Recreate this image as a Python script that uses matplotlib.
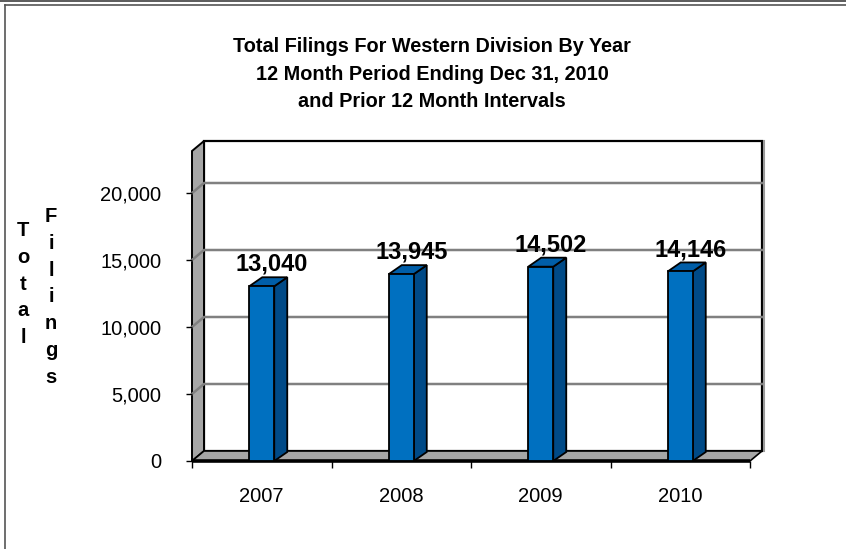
import matplotlib
matplotlib.use("Agg")
import matplotlib.pyplot as plt
from matplotlib.patches import Polygon
from matplotlib.lines import Line2D

plt.rcParams['font.family'] = ['Liberation Sans', 'DejaVu Sans']

years = ['2007', '2008', '2009', '2010']
filings = [13040, 13945, 14502, 14146]
yticks = [0, 5000, 10000, 15000, 20000]
title = ("Total Filings For Western Division By Year\n"
         "12 Month Period Ending Dec 31, 2010\n"
         "and Prior 12 Month Intervals")

W, H = 846, 549
fig = plt.figure(figsize=(W / 100, H / 100), dpi=100)
fig.patch.set_facecolor('white')

# plot area (front plane) in pixels
left, right, bottom, top = 192, 750, 461, 151
ax = fig.add_axes([left / W, (H - bottom) / H, (right - left) / W, (bottom - top) / H])
ymax = (bottom - top) / 67 * 5000
x0, x1 = -0.5, len(years) - 0.5
ax.set_xlim(x0, x1)
ax.set_ylim(0, ymax)
for s in ax.spines.values():
    s.set_visible(False)
ax.patch.set_visible(False)

# 3d depth, pixels -> data
px_x = (x1 - x0) / (right - left)
px_y = ymax / (bottom - top)
DX, DY = 12 * px_x, 10 * px_y

wall_gray = '#a6a6a6'
# back wall
ax.add_patch(Polygon([(x0 + DX, DY), (x1 + DX, DY), (x1 + DX, ymax + DY), (x0 + DX, ymax + DY)],
                     closed=True, fc='white', ec='black', lw=1.6, clip_on=False, zorder=0))
ax.plot([x1 + DX + 2 * px_x] * 2, [DY, ymax + DY], color='#999999', lw=1.5, clip_on=False, zorder=0)
# left wall
ax.add_patch(Polygon([(x0, 0), (x0 + DX, DY), (x0 + DX, ymax + DY), (x0, ymax)],
                     closed=True, fc=wall_gray, ec='black', lw=1.4, clip_on=False, zorder=1))
# floor
ax.add_patch(Polygon([(x0, 0), (x1, 0), (x1 + DX, DY), (x0 + DX, DY)],
                     closed=True, fc=wall_gray, ec='black', lw=1.2, clip_on=False, zorder=1))
ax.plot([x0, x1], [0, 0], color='black', lw=2.6, clip_on=False, zorder=2, solid_capstyle='butt')

# gridlines on the walls
for v in yticks[1:]:
    ax.plot([x0, x0 + DX, x1 + DX], [v, v + DY, v + DY], color='#808080', lw=1.8,
            clip_on=False, zorder=1.5)

# bars
front = '#0070c0'
side = '#004a87'
topc = '#005ea8'
bw = 25 * px_x
bdx, bdy = 13 * px_x, 9 * px_y
bars = ax.bar(range(len(years)), filings, width=bw, color=front, edgecolor='black',
              linewidth=1.3, zorder=4)
for r in bars:
    bx0 = r.get_x()
    bx1 = bx0 + r.get_width()
    h = r.get_height()
    ax.add_patch(Polygon([(bx1, 0), (bx1, h), (bx1 + bdx, h + bdy), (bx1 + bdx, bdy)],
                         closed=True, fc=side, ec='black', lw=1.3, zorder=3.5))
    ax.add_patch(Polygon([(bx0, h), (bx1, h), (bx1 + bdx, h + bdy), (bx0 + bdx, h + bdy)],
                         closed=True, fc=topc, ec='black', lw=1.3, zorder=3.5))

for i, v in enumerate(filings):
    ax.annotate(f'{v:,}', (i, v), xytext=(7.5, 11), textcoords='offset points',
                ha='center', va='baseline', fontsize=17, fontweight='bold', zorder=6)

# axes ticks
ax.set_yticks(yticks)
ax.set_yticklabels([f'{v:,}' for v in yticks])
ax.tick_params(axis='y', direction='out', length=4, width=1, pad=18, labelsize=14.5)
ax.set_xticks(range(len(years)))
ax.set_xticklabels(years)
ax.tick_params(axis='x', which='major', length=0, pad=19, labelsize=14.5)
ax.set_xticks([x0 + i for i in range(len(years) + 1)], minor=True)
ax.tick_params(axis='x', which='minor', direction='out', length=5, width=1)

# title and y label
fig.text(432 / W, 1 - 74 / H, title, ha='center', va='center', fontsize=14.3,
         fontweight='bold', linespacing=1.55)
fig.text(23 / W, 1 - 284 / H, '\n'.join('Total'), ha='center', va='center',
         fontsize=14.5, fontweight='bold', linespacing=1.52)
fig.text(51 / W, 1 - 297 / H, '\n'.join('Filings'), ha='center', va='center',
         fontsize=14.5, fontweight='bold', linespacing=1.52)

# outer frame lines
fig.add_artist(Line2D([0, 1], [1 - 0.5 / H, 1 - 0.5 / H], color='#404040', lw=1.2))
fig.add_artist(Line2D([5 / W, 1], [1 - 5 / H, 1 - 5 / H], color='#555555', lw=1.2))
fig.add_artist(Line2D([5 / W, 5 / W], [0, 1 - 5 / H], color='#555555', lw=1.2))

fig.savefig('out.png', dpi=100)
